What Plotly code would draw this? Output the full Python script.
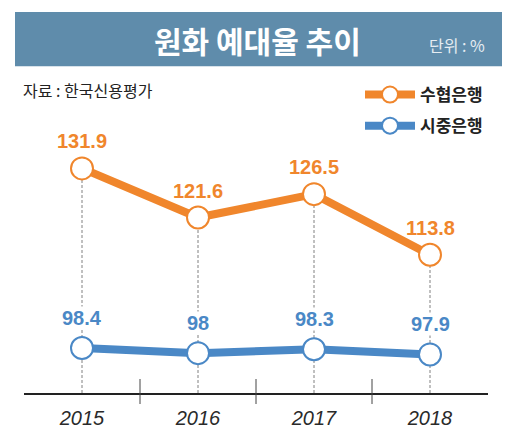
import plotly.graph_objects as go

years = ["2015", "2016", "2017", "2018"]
suhyup = [131.9, 121.6, 126.5, 113.8]
commercial = [98.4, 98.0, 98.3, 97.9]
suhyup_labels = ["131.9", "121.6", "126.5", "113.8"]
commercial_labels = ["98.4", "98", "98.3", "97.9"]

ORANGE = "#f0862c"
BLUE = "#4a88c6"
BAR = "#5f8cab"
KFONT = "Noto Sans CJK KR"
NFONT = "Liberation Sans, Arial, Noto Sans CJK KR"

# page body adds an 8px margin, so the figure is made that much smaller
OFF = 8
W, H = 520 - OFF, 441 - OFF
L, R, T, B = 24 - OFF, 488 - OFF, 140 - OFF, 397 - OFF  # plot area in px

# the two lines use their own scales (broken axis in the original)
y_orange = [84.8, 137.85]
y_blue = [94.87, 114.73]


def px_x(px):
    return (px - OFF - L) / (R - L)


def px_y(py):
    return (B - (py - OFF)) / (B - T)


fig = go.Figure()
fig.add_trace(go.Scatter(
    x=years, y=suhyup, name="수협은행", mode="lines+markers",
    line=dict(color=ORANGE, width=8),
    marker=dict(size=22, color="white", line=dict(color=ORANGE, width=2)),
    legendgroup="a", yaxis="y", cliponaxis=False))
fig.add_trace(go.Scatter(
    x=years, y=commercial, name="시중은행", mode="lines+markers",
    line=dict(color=BLUE, width=8),
    marker=dict(size=22, color="white", line=dict(color=BLUE, width=2)),
    legendgroup="b", yaxis="y2", cliponaxis=False))

shapes = []
# dashed drop lines from the orange points down to the axis
for i, v in enumerate(suhyup):
    shapes.append(dict(type="line", xref="x", yref="y", x0=i, x1=i, y0=y_orange[0], y1=v,
                       line=dict(color="#808080", width=1, dash="3px,2px"), layer="below"))
# ticks between categories, crossing the axis line
for i in range(len(years) - 1):
    shapes.append(dict(type="line", xref="x", yref="paper", x0=i + 0.5, x1=i + 0.5,
                       ysizemode="pixel", yanchor=0, y0=-11, y1=14,
                       line=dict(color="#444444", width=1)))
# title bar
shapes.append(dict(type="rect", xref="paper", yref="paper",
                   x0=px_x(15), x1=px_x(502), y0=px_y(65), y1=px_y(10),
                   fillcolor=BAR, line=dict(width=0)))

annotations = []
for i, (v, t) in enumerate(zip(suhyup, suhyup_labels)):
    annotations.append(dict(x=i, y=v, xref="x", yref="y", text=t, showarrow=False,
                            yshift=27, yanchor="middle",
                            font=dict(family=NFONT, size=20, color=ORANGE, weight="bold")))
# blue labels get a white box so the drop lines break around them
for i, (v, t) in enumerate(zip(commercial, commercial_labels)):
    annotations.append(dict(x=i, y=v, xref="x", yref="y2", text=t, showarrow=False,
                            yshift=30, yanchor="middle",
                            font=dict(family=NFONT, size=20, color=BLUE, weight="bold"),
                            bgcolor="white", borderpad=0))
annotations.append(dict(x=px_x(257), y=px_y(38), xref="paper", yref="paper", text="원화 예대율 추이",
                        xanchor="center", yanchor="middle", showarrow=False,
                        font=dict(family=KFONT, size=30, color="white", weight="bold")))
annotations.append(dict(x=px_x(487), y=px_y(43), xref="paper", yref="paper", text="단위 : %",
                        xanchor="right", yanchor="middle", showarrow=False,
                        font=dict(family=KFONT, size=16, color="#e6edf2")))
annotations.append(dict(x=px_x(21), y=px_y(89), xref="paper", yref="paper", text="자료 : 한국신용평가",
                        xanchor="left", yanchor="middle", showarrow=False,
                        font=dict(family=KFONT, size=16, color="#222222")))

hidden_y = dict(showgrid=False, zeroline=False, showline=False, ticks="",
                showticklabels=False, fixedrange=True)

fig.update_layout(
    width=W, height=H,
    margin=dict(l=L, r=W - R, t=T, b=H - B),
    paper_bgcolor="white", plot_bgcolor="white",
    showlegend=True,
    legend=dict(x=px_x(360), y=px_y(76), xanchor="left", yanchor="top",
                font=dict(family=KFONT, size=17, color="#222222", weight="bold"),
                itemwidth=50, tracegroupgap=6, bgcolor="rgba(0,0,0,0)"),
    xaxis=dict(type="category", range=[-0.5, 3.5], showgrid=False, zeroline=False,
               showline=True, linecolor="#222222", linewidth=2,
               ticks="outside", ticklen=6, tickcolor="rgba(0,0,0,0)",
               tickfont=dict(family=NFONT, size=20, color="#2a2a2a", style="italic")),
    yaxis=dict(range=y_orange, **hidden_y),
    yaxis2=dict(range=y_blue, overlaying="y", **hidden_y),
    shapes=shapes,
    annotations=annotations,
)

fig.write_html("out.html")
